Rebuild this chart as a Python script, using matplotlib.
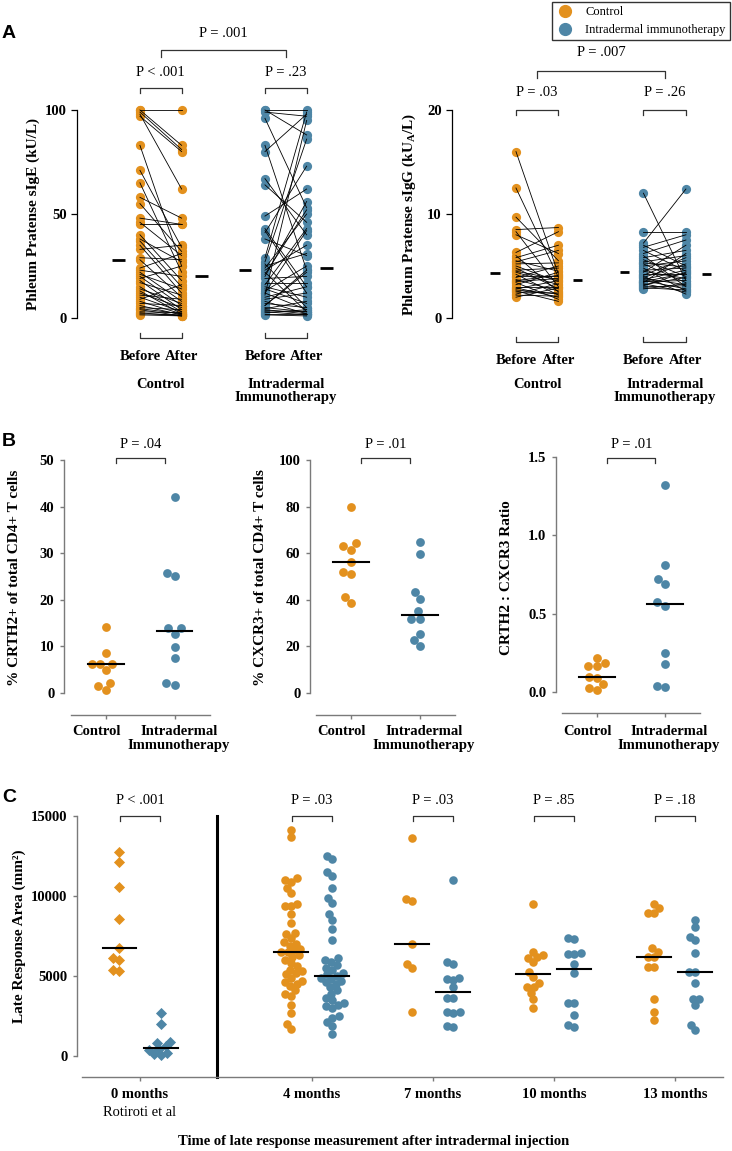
import numpy as np
import matplotlib.pyplot as plt
from matplotlib.lines import Line2D

plt.rcParams['font.family'] = ['Liberation Serif', 'DejaVu Serif']

ORANGE = '#E3911E'
BLUE = '#4E86A6'
GREY = '#7a7a7a'

# ---- panel A: paired sIgE (kU/L) ----
sige_ctrl_before = [100, 100, 99, 97, 98, 83, 71, 65, 58, 55, 48, 45, 46, 40, 38, 37, 35, 33, 29, 28,
                    24, 23, 22, 21, 20, 19, 18, 17, 15, 14, 13, 12, 11, 10, 9, 8, 7, 6, 5, 4.5,
                    4, 3, 2.5, 2, 1.5]
sige_ctrl_after = [100, 83, 81, 80, 62, 25, 34, 22, 48, 32, 45, 45, 30, 18, 27, 15, 12, 35, 28, 10,
                   31, 20, 8, 14, 6, 25, 4, 11, 3, 7, 2, 5, 9, 3, 16, 2, 6, 1.5, 4, 2,
                   1, 2.5, 1, 1.5, 1]
sige_id_before = [100, 100, 99, 96, 83, 80, 67, 64, 49, 43, 42, 41, 38, 29, 27, 26, 24, 23, 22, 20,
                  19, 17, 16, 14, 13, 12, 11, 10, 9, 8, 7, 6, 5, 4.5, 4, 3.5, 3, 2.5, 2, 1.5,
                  21, 25, 15, 12, 6]
sige_id_after = [100, 88, 97, 53, 23, 98, 40, 46, 62, 15, 12, 73, 30, 99, 86, 5, 50, 35, 3, 56,
                 20, 17, 43, 7, 25, 4, 95, 15, 12, 2, 5, 23, 3, 8, 2, 3, 1.5, 4, 2, 1,
                 52, 31, 10, 42, 22]
sige_means = [28, 20, 23, 24]

# ---- panel A: paired sIgG (kUA/L) ----
sigg_ctrl_before = [16, 12.5, 9.7, 8.5, 8.0, 8.3, 6.3, 6.0, 5.8, 5.5, 5.2, 5.0, 4.8, 4.6, 4.4, 4.2, 4.0,
                    3.9, 3.7, 3.5, 3.4, 3.2, 3.0, 2.9, 2.8, 2.6, 2.5, 2.3, 2.2, 2.0, 5.4, 4.5, 3.6, 2.7]
sigg_ctrl_after = [4.2, 3.9, 5.5, 8.7, 6.2, 3.0, 8.3, 2.5, 7.0, 4.5, 5.3, 3.5, 2.8, 4.8, 3.2, 2.2, 4.0,
                   5.0, 2.6, 3.8, 1.8, 4.4, 3.0, 2.0, 3.6, 1.6, 2.4, 3.3, 2.1, 2.9, 6.5, 3.7, 4.1, 2.3]
sigg_id_before = [12.0, 8.3, 7.2, 7.0, 6.8, 6.5, 6.2, 6.0, 5.8, 5.6, 5.4, 5.2, 5.0, 4.8, 4.6, 4.5, 4.4,
                  4.2, 4.0, 3.9, 3.8, 3.7, 3.6, 3.5, 3.4, 3.3, 3.2, 3.1, 3.0, 2.9, 2.8, 4.1, 5.3, 3.5]
sigg_id_after = [3.6, 8.3, 12.4, 5.0, 8.0, 4.5, 7.5, 3.0, 6.5, 4.0, 6.0, 3.4, 5.5, 2.6, 4.8, 3.8, 7.0,
                 4.2, 2.3, 5.2, 3.2, 4.6, 2.8, 3.6, 6.2, 2.5, 3.9, 4.4, 3.1, 2.7, 3.3, 5.8, 4.9, 4.3]
sigg_means = [4.3, 3.7, 4.4, 4.2]

# ---- panel B ----
crth2_ctrl = [14.2, 8.6, 6.2, 6.2, 6.2, 4.9, 2.2, 1.4, 0.6]
crth2_id = [42.0, 25.8, 25.1, 13.9, 13.9, 12.7, 9.9, 7.5, 1.8, 2.2]
cxcr3_ctrl = [79.8, 64.4, 63.1, 61.4, 56.2, 52.0, 51.0, 41.0, 38.6]
cxcr3_id = [64.8, 59.7, 43.5, 40.5, 35.3, 31.8, 31.8, 25.3, 22.7, 20.2]
ratio_ctrl = [0.22, 0.185, 0.165, 0.165, 0.098, 0.09, 0.05, 0.025, 0.015]
ratio_id = [1.32, 0.81, 0.72, 0.69, 0.575, 0.55, 0.25, 0.18, 0.04, 0.03]

# ---- panel C: late response area (mm2) ----
c_labels = ['0 months', '4 months', '7 months', '10 months', '13 months']
c_pvals = ['P < .001', 'P = .03', 'P = .03', 'P = .85', 'P = .18']
late_ctrl = [
    [12770, 12100, 10560, 8560, 6750, 6100, 6000, 5370, 5300],
    [14100, 13660, 11100, 11000, 10900, 10500, 10200, 9500, 9400, 9350, 8900, 8300, 7700, 7600,
     7350, 7100, 7000, 6900, 6700, 6600, 6500, 6500, 6300, 6200, 6000, 5800, 5600, 5400, 5300,
     5200, 5100, 4900, 4700, 4600, 4500, 4400, 4100, 3900, 3750, 3200, 2700, 2000, 1700],
    [13650, 9830, 9700, 7000, 5750, 5530, 2770],
    [9500, 6520, 6300, 6200, 6100, 5850, 5250, 4950, 4580, 4300, 4300, 3940, 3560, 3000],
    [9500, 9250, 8960, 8960, 6750, 6520, 6180, 6180, 5580, 5580, 3560, 2770, 2250],
]
late_id = [
    [2690, 2000, 900, 830, 600, 450, 350, 200, 100, 50],
    [12500, 12300, 11500, 11250, 10500, 9880, 9580, 8850, 8500, 7940, 7250, 6100, 6000, 5900,
     5700, 5500, 5400, 5200, 5100, 5000, 4900, 4800, 4700, 4600, 4500, 4300, 4100, 3900, 3600,
     3500, 3300, 3200, 3100, 3000, 2500, 2400, 2100, 1900, 1400],
    [11020, 5900, 5750, 4900, 4800, 4750, 4330, 3620, 3620, 2750, 2750, 2700, 1900, 1810],
    [7370, 7300, 6450, 6350, 6350, 5750, 5180, 3300, 3300, 2560, 1940, 1800],
    [8500, 8080, 7420, 7250, 6420, 5270, 5270, 4560, 3560, 3560, 3190, 1940, 1620],
]
c_pos = [0, 1.42, 2.42, 3.42, 4.42]

W, H = 732, 1151
fig = plt.figure(figsize=(W / 100, H / 100), dpi=100)

BOLD = dict(fontweight='bold', fontsize=10.5)
YLAB = dict(fontweight='bold', fontsize=11)
PFONT = dict(fontsize=10.5)


def add_ax(l, t, r, b):
    return fig.add_axes([l / W, 1 - b / H, (r - l) / W, (b - t) / H])


def ydat(ax, p):
    return ax.transData.inverted().transform((0, H - p))[1]


def p_bracket(ax, x0, x1, ytop, txt, ty, tick=5):
    y, y2 = ydat(ax, ytop), ydat(ax, ytop + tick)
    ax.plot([x0, x0, x1, x1], [y2, y, y, y2], color='#333333', lw=0.9, clip_on=False)
    ax.text((x0 + x1) / 2, ydat(ax, ty), txt, ha='center', va='center', clip_on=False, **PFONT)


def swarm(ax, values, center, diam):
    vals = np.asarray(values, float)
    ys = ax.transData.transform(np.column_stack([np.full(len(vals), center), vals]))[:, 1]
    sx = ax.transData.transform((1, 0))[0] - ax.transData.transform((0, 0))[0]
    offs = np.zeros(len(vals))
    placed = []
    for i in np.argsort(ys):
        y = ys[i]
        cands = [0.0]
        for po, py in placed:
            dy = abs(y - py)
            if dy < diam:
                dx = np.sqrt(diam ** 2 - dy ** 2)
                cands += [po - dx, po + dx]
        cands.sort(key=abs)
        for c in cands:
            if all((c - po) ** 2 + (y - py) ** 2 >= diam ** 2 - 1e-6 for po, py in placed):
                break
        placed.append((c, y))
        offs[i] = c
    return center + offs / sx


# ================= Panel A =================
def paired_panel(ax, groups, means, mean_x, mean_hw, ylabel, yl_x, top_txt, sub_txts, geo):
    for (before, after, color), (xb, xa) in zip(groups, [(0, 1), (3, 4)]):
        for b, a in zip(before, after):
            ax.plot([xb, xa], [b, a], color='black', lw=0.6, zorder=3, clip_on=False)
        ax.scatter([xb] * len(before), before, s=44, color=color, lw=0, zorder=2, clip_on=False)
        ax.scatter([xa] * len(after), after, s=44, color=color, lw=0, zorder=2, clip_on=False)
    for m, x in zip(means, mean_x):
        ax.plot([x - mean_hw, x + mean_hw], [m, m], color='black', lw=2, solid_capstyle='butt')
    for s in ['top', 'right', 'bottom']:
        ax.spines[s].set_visible(False)
    ax.spines['left'].set_linewidth(0.9)
    ax.set_xticks([])
    ax.tick_params(axis='y', length=4, width=0.9, labelsize=10.5)
    for t in ax.get_yticklabels():
        t.set_fontweight('bold')
    fig.text(yl_x / W, 1 - 214 / H, ylabel, rotation=90, ha='center', va='center', **YLAB)
    sub_y, sub_ty, top_y, top_ty, bot_y = geo
    p_bracket(ax, 0.5, 3.5, top_y, top_txt, top_ty, tick=7)
    for (x0, x1), t in zip([(0, 1), (3, 4)], sub_txts):
        p_bracket(ax, x0, x1, sub_y, t, sub_ty)
        yb, yt = ydat(ax, bot_y), ydat(ax, bot_y - 5)
        ax.plot([x0, x0, x1, x1], [yt, yb, yb, yt], color='#333333', lw=0.9, clip_on=False)
        ax.text(x0, ydat(ax, bot_y + 19), 'Before', ha='center', va='center', **BOLD)
        ax.text(x1, ydat(ax, bot_y + 19), 'After', ha='center', va='center', **BOLD)
    ax.text(0.5, ydat(ax, 378), 'Control', ha='center', va='top', **BOLD)
    ax.text(3.5, ydat(ax, 378), 'Intradermal\nImmunotherapy', ha='center', va='top',
            linespacing=1.05, **BOLD)


axA1 = add_ax(77, 110, 345, 318)
axA1.set_xlim(-1.51, 4.92)
axA1.set_ylim(0, 100)
axA1.set_yticks([0, 50, 100])
paired_panel(axA1, [(sige_ctrl_before, sige_ctrl_after, ORANGE), (sige_id_before, sige_id_after, BLUE)],
             sige_means, [-0.52, 1.48, 2.52, 4.48], 0.15, 'Phleum Pratense sIgE (kU/L)', 33,
             'P = .001', ['P < .001', 'P = .23'], (88, 72, 50, 34, 338))

axA2 = add_ax(452, 110, 725, 318)
axA2.set_xlim(-1.506, 4.92)
axA2.set_ylim(0, 20)
axA2.set_yticks([0, 10, 20])
paired_panel(axA2, [(sigg_ctrl_before, sigg_ctrl_after, ORANGE), (sigg_id_before, sigg_id_after, BLUE)],
             sigg_means, [-0.49, 1.45, 2.55, 4.49], 0.11,
             r'Phleum Pratense sIgG (kU$_\mathregular{A}$/L)', 409,
             'P = .007', ['P = .03', 'P = .26'], (110, 93, 71, 53, 342))

# ================= Panel B =================
def dot_panel(ax, ctrl, idv, ylim_top, yticks, fmt, ylabel, yl_x, ptxt, diam=8.5):
    ax.set_yticks(yticks)
    ax.set_yticklabels([fmt.format(v) for v in yticks])
    for vals, c, col in [(ctrl, 0, ORANGE), (idv, 1, BLUE)]:
        xs = swarm(ax, vals, c, diam)
        ax.scatter(xs, vals, s=40, color=col, lw=0, zorder=2, clip_on=False)
        med = np.median(vals)
        ax.plot([c - 0.26, c + 0.26], [med, med], color='black', lw=1.5, zorder=3)
    for s in ['top', 'right']:
        ax.spines[s].set_visible(False)
    for s in ['left', 'bottom']:
        ax.spines[s].set_color(GREY)
        ax.spines[s].set_linewidth(1)
    ax.spines['left'].set_bounds(0, ylim_top)
    ax.spines['bottom'].set_bounds(-0.51, 1.51)
    ax.set_xticks([0, 1])
    ax.set_xticklabels(['', ''])
    ax.tick_params(length=3, width=1, color=GREY, labelsize=10.5, pad=4)
    for t in ax.get_yticklabels():
        t.set_fontweight('bold')
    ax.text(-0.14, ydat(ax, 725), 'Control', ha='center', va='top', **BOLD)
    ax.text(1.06, ydat(ax, 725), 'Intradermal\nImmunotherapy', ha='center', va='top',
            linespacing=1.05, **BOLD)
    fig.text(yl_x / W, 1 - 578 / H, ylabel, rotation=90, ha='center', va='center', **YLAB)
    p_bracket(ax, 0.15, 0.86, 458, ptxt, 444)


axB1 = add_ax(64, 460, 215, 715)
axB1.set_xlim(-0.613, 1.59)
axB1.set_ylim(-4.72, 50)
dot_panel(axB1, crth2_ctrl, crth2_id, 50, [0, 10, 20, 30, 40, 50], '{:d}',
          '% CRTH2+ of total CD4+ T cells', 15, 'P = .04')

axB2 = add_ax(310, 460, 460, 715)
axB2.set_xlim(-0.594, 1.58)
axB2.set_ylim(-9.44, 100)
dot_panel(axB2, cxcr3_ctrl, cxcr3_id, 100, [0, 20, 40, 60, 80, 100], '{:d}',
          '% CXCR3+ of total CD4+ T cells', 260, 'P = .01')

axB3 = add_ax(556, 457, 705, 713)
axB3.set_xlim(-0.603, 1.59)
axB3.set_ylim(-0.134, 1.5)
dot_panel(axB3, ratio_ctrl, ratio_id, 1.5, [0, 0.5, 1.0, 1.5], '{:.1f}',
          'CRTH2 : CXCR3 Ratio', 506, 'P = .01')

# ================= Panel C =================
axC = add_ax(77, 816, 723, 1077)
axC.set_xlim(-0.521, 4.818)
axC.set_ylim(-1312, 15000)
for i, (xc, ctrl, idv, pt) in enumerate(zip(c_pos, late_ctrl, late_id, c_pvals)):
    mk, sz = ('D', 32) if i == 0 else ('o', 38)
    for vals, dx, col in [(ctrl, -0.17, ORANGE), (idv, 0.17, BLUE)]:
        xs = swarm(axC, vals, xc + dx, 6.5)
        axC.scatter(xs, vals, s=sz, marker=mk, color=col, lw=0, zorder=2)
        med = np.median(vals)
        axC.plot([xc + dx - 0.14, xc + dx + 0.14], [med, med], color='black', lw=1.5, zorder=3)
    p_bracket(axC, xc - 0.165, xc + 0.165, 816, pt, 800)
axC.plot([0.636, 0.636], [-1312, 15000], color='black', lw=2.2, clip_on=False)
for s in ['top', 'right']:
    axC.spines[s].set_visible(False)
for s in ['left', 'bottom']:
    axC.spines[s].set_color(GREY)
    axC.spines[s].set_linewidth(1)
axC.spines['left'].set_bounds(0, 15000)
axC.spines['bottom'].set_bounds(-0.479, 4.818)
axC.set_yticks([0, 5000, 10000, 15000])
axC.set_xticks(c_pos)
axC.set_xticklabels(c_labels)
axC.tick_params(length=3, width=1, color=GREY, labelsize=10.5, pad=4)
axC.tick_params(axis='x', pad=5)
for t in axC.get_yticklabels() + axC.get_xticklabels():
    t.set_fontweight('bold')
axC.text(0, ydat(axC, 1112), 'Rotiroti et al', ha='center', va='center', **PFONT)
fig.text(19 / W, 1 - 936 / H, 'Late Response Area (mm²)', rotation=90, ha='center', va='center', **YLAB)
fig.text(374 / W, 1 - 1141 / H, 'Time of late response measurement after intradermal injection',
         ha='center', va='center', **BOLD)

# panel letters
for lab, yp in [('A', 33), ('B', 441), ('C', 797)]:
    fig.text(2 / W, 1 - yp / H, lab, ha='left', va='center', fontsize=14, fontweight='bold',
             family='Liberation Sans')

# legend
handles = [Line2D([], [], marker='o', ls='', color=ORANGE, markersize=8.5, label='Control'),
           Line2D([], [], marker='o', ls='', color=BLUE, markersize=8.5, label='Intradermal immunotherapy')]
leg = fig.legend(handles=handles, loc='upper right', bbox_to_anchor=(730 / W, 1 - 2 / H),
                 frameon=True, fancybox=False, edgecolor='black', fontsize=9, borderaxespad=0,
                 handletextpad=1.0, borderpad=0.35, labelspacing=0.45, handlelength=1.3)
leg.get_frame().set_linewidth(1)

fig.savefig('out.png', dpi=100)
